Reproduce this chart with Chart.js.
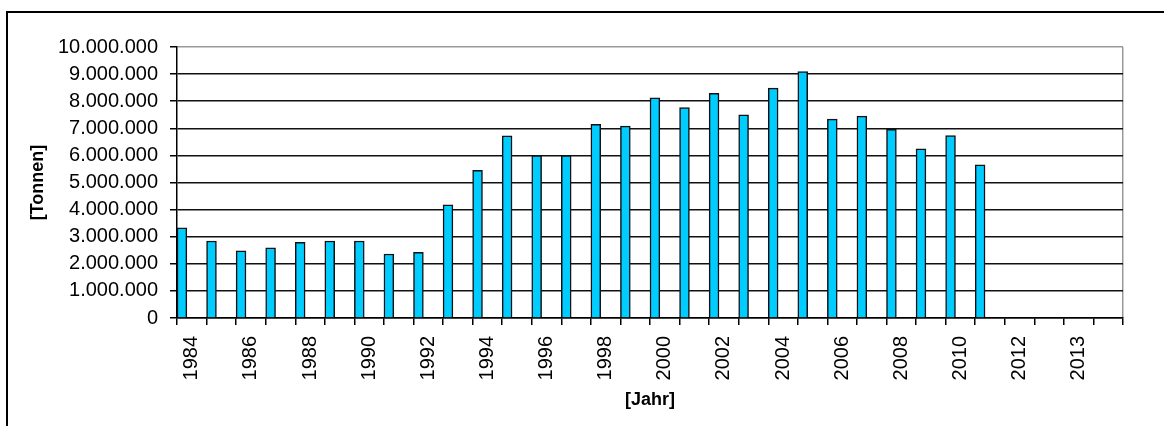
<!DOCTYPE html>
<html lang="de">
<head>
<meta charset="utf-8">
<title>Tonnen je Jahr</title>
<script src="https://cdn.jsdelivr.net/npm/chart.js@4.4.1/dist/chart.umd.min.js"></script>
<style>
  html, body { margin: 0; padding: 0; background: #fff; overflow: hidden; }
  #frame { position: absolute; left: 6px; top: 11px; width: 1200px; height: 500px; border: 2px solid #000; }
  #tonnage { position: absolute; left: 0; top: 0; }
</style>
</head>
<body>
<div id="frame"></div>
<canvas id="tonnage" width="1164" height="426"></canvas>
<script>
/* ---------- data ---------- */

// one slot per year; the two blank slots carry no label
const years = [
  "1984", "1985", "1986", "1987", "1988", "1989", "1990", "1991",
  "1992", "1993", "1994", "1995", "1996", "1997", "1998", "1999",
  "2000", "2001", "2002", "2003", "2004", "2005", "2006", "2007",
  "2008", "2009", "2010", "2011", "2012", "", "2013", ""
];

const tonnes = [
  3330000, 2840000, 2480000, 2590000, 2790000, 2840000, 2840000, 2360000,
  2420000, 4180000, 5450000, 6720000, 5990000, 5990000, 7150000, 7080000,
  8120000, 7760000, 8290000, 7500000, 8480000, 9090000, 7340000, 7450000,
  6960000, 6240000, 6730000, 5650000, null, null, null, null
];

const yTicks = { min: 0, max: 10000000, step: 1000000 };

/* ---------- helpers ---------- */

const fmt = v => String(v).replace(/\B(?=(\d{3})+(?!\d))/g, ".");
const font = { family: "'Liberation Sans', Arial, sans-serif", size: 20 };
const titleFont = { family: "'Liberation Sans', Arial, sans-serif", size: 18, weight: "bold" };

/* ---------- chart ---------- */

new Chart(document.getElementById("tonnage"), {
  type: "bar",
  data: {
    labels: years,
    datasets: [
      {
        label: "Tonnen",
        data: tonnes,
        backgroundColor: "#00ccff",
        borderColor: "#111",
        borderWidth: 1.5,
        categoryPercentage: 1,
        barPercentage: 1
      },
      // two empty series keep the bar on the left third of each year
      { label: "", data: [], categoryPercentage: 1, barPercentage: 1 },
      { label: "", data: [], categoryPercentage: 1, barPercentage: 1 }
    ]
  },
  options: {
    responsive: false,
    animation: false,
    layout: { padding: { top: 47, right: 41, left: 0, bottom: 0 } },
    plugins: {
      legend: { display: false },
      tooltip: { enabled: false }
    },
    scales: {
      x: {
        afterFit: s => { s.height = 108; },
        border: { color: "#000", width: 1.5 },
        grid: {
          offset: true,
          drawOnChartArea: true,
          color: c => (c.type === "tick" ? "rgba(0,0,0,0)" : "#999"),
          lineWidth: 1.5,
          tickColor: "#000",
          tickWidth: 1.5,
          tickLength: 7
        },
        ticks: {
          autoSkip: false,
          minRotation: 90,
          maxRotation: 90,
          padding: 11,
          color: "#000",
          font: font,
          callback: (v, i) => (i % 2 === 0 ? years[i] : "")
        },
        title: {
          display: true,
          text: "[Jahr]",
          color: "#000",
          font: titleFont,
          padding: { top: 0, bottom: 15 }
        }
      },
      y: {
        min: yTicks.min,
        max: yTicks.max,
        afterFit: s => { s.width = 177; },
        border: { color: "#000", width: 1.5 },
        grid: {
          color: c => (c.tick && c.tick.value === yTicks.max ? "#999" : "#111"),
          lineWidth: 1.5,
          tickColor: "#000",
          tickWidth: 1.5,
          tickLength: 7
        },
        ticks: {
          stepSize: yTicks.step,
          padding: 12,
          color: "#000",
          font: font,
          callback: v => fmt(v)
        },
        title: {
          display: true,
          text: "[Tonnen]",
          color: "#000",
          font: titleFont,
          padding: { top: 27, bottom: 0 }
        }
      }
    }
  }
});
</script>
</body>
</html>
